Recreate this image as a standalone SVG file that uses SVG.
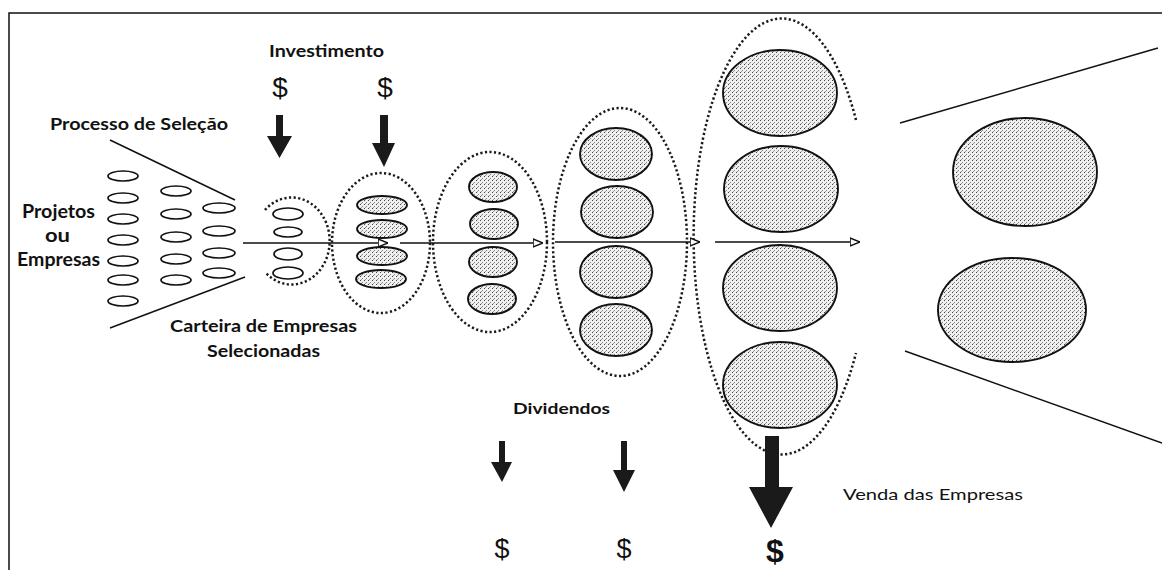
<svg xmlns="http://www.w3.org/2000/svg" width="1162" height="570" viewBox="0 0 1162 570">
<style>
.lbl{font-family:Lato,"Liberation Sans",sans-serif;fill:#111}
.b{font-weight:bold}
.dol{font-family:"Liberation Sans",Arial,sans-serif;fill:#111;text-anchor:middle}
.sm{fill:#fff;stroke:#111;stroke-width:1.7}
.big{fill:url(#stip);stroke:#111;stroke-width:1.9}
.dot{fill:none;stroke:#1a1a1a;stroke-width:2.5;stroke-dasharray:2.2 2.4}
.ln{stroke:#111;stroke-width:1.5;fill:none}
.arr{fill:#1a1a1a}
</style>
<defs>
<pattern id="stip" width="4" height="4" patternUnits="userSpaceOnUse">
<rect width="4" height="4" fill="#efefef"/>
<rect x="0" y="0" width="1" height="1" fill="#444"/>
<rect x="2" y="2" width="1" height="1" fill="#888"/>
<rect x="1" y="3" width="1" height="1" fill="#999"/>
</pattern>
<marker id="ah" viewBox="0 0 10 10" refX="10" refY="5" markerWidth="10" markerHeight="10" markerUnits="userSpaceOnUse" orient="auto">
<path d="M0,1 L10,5 L0,9 Z" fill="#fff" stroke="#111" stroke-width="1.6"/>
</marker>
</defs>
<rect width="1162" height="570" fill="#fff"/>
<path d="M9,570 V13 H1162" class="ln" stroke-width="1.6"/>

<g id="labels">
<text class="lbl b" x="269" y="57" font-size="17" textLength="115" lengthAdjust="spacingAndGlyphs">Investimento</text>
<text class="lbl b" x="50" y="130" font-size="17" textLength="178" lengthAdjust="spacingAndGlyphs">Processo de Seleção</text>
<text class="lbl b" x="22" y="218" font-size="18" textLength="73" lengthAdjust="spacingAndGlyphs">Projetos</text>
<text class="lbl b" x="45" y="242" font-size="18" textLength="25" lengthAdjust="spacingAndGlyphs">ou</text>
<text class="lbl b" x="17" y="266" font-size="18" textLength="83" lengthAdjust="spacingAndGlyphs">Empresas</text>
<text class="lbl b" x="170" y="332" font-size="17" textLength="187" lengthAdjust="spacingAndGlyphs">Carteira de Empresas</text>
<text class="lbl b" x="207" y="357" font-size="17" textLength="113" lengthAdjust="spacingAndGlyphs">Selecionadas</text>
<text class="lbl b" x="513" y="414" font-size="16" font-weight="600" textLength="97" lengthAdjust="spacingAndGlyphs">Dividendos</text>
<text class="lbl" x="843" y="500" font-size="16" textLength="180" lengthAdjust="spacingAndGlyphs">Venda das Empresas</text>
</g>

<g id="investimento">
<text class="dol" x="280" y="97" font-size="28">$</text>
<text class="dol" x="385" y="97" font-size="28">$</text>
<path class="arr" d="M276,115 H283 V136 H292 L279.5,158 L267,136 H276 Z"/>
<path class="arr" d="M380,115 H388 V143 H395 L384,167 L372,143 H380 Z"/>
</g>

<g id="funil">
<path class="ln" d="M110,140 L235,200"/>
<path class="ln" d="M110,328 L245,277"/>
<g id="coluna1">
<ellipse class="sm" cx="123" cy="176" rx="15" ry="5"/>
<ellipse class="sm" cx="123" cy="198" rx="15" ry="5"/>
<ellipse class="sm" cx="123" cy="219" rx="15" ry="5"/>
<ellipse class="sm" cx="123" cy="240" rx="15" ry="5"/>
<ellipse class="sm" cx="123" cy="261" rx="15" ry="5"/>
<ellipse class="sm" cx="123" cy="280" rx="15" ry="5"/>
<ellipse class="sm" cx="123" cy="301" rx="15" ry="5"/>
</g>
<g id="coluna2">
<ellipse class="sm" cx="176" cy="191" rx="15" ry="5"/>
<ellipse class="sm" cx="176" cy="214" rx="15" ry="5"/>
<ellipse class="sm" cx="176" cy="237" rx="15" ry="5"/>
<ellipse class="sm" cx="176" cy="259" rx="15" ry="5"/>
<ellipse class="sm" cx="176" cy="280" rx="15" ry="5"/>
</g>
<g id="coluna3">
<ellipse class="sm" cx="219" cy="208" rx="16" ry="5"/>
<ellipse class="sm" cx="219" cy="231" rx="16" ry="5"/>
<ellipse class="sm" cx="219" cy="253" rx="16" ry="5"/>
<ellipse class="sm" cx="219" cy="273" rx="16" ry="5"/>
</g>
</g>

<g id="carteira1">
<path class="dot" d="M265,210 A38,43.5 0 1 1 265,272"/>
<ellipse class="sm" cx="288" cy="214" rx="15" ry="6"/>
<ellipse class="sm" cx="288" cy="232" rx="14" ry="5"/>
<ellipse class="sm" cx="288" cy="254" rx="14" ry="6"/>
<ellipse class="sm" cx="288" cy="273" rx="15" ry="6"/>
</g>

<g id="carteira2">
<ellipse class="dot" cx="381" cy="243" rx="49" ry="70"/>
<ellipse class="big" cx="382" cy="205" rx="25" ry="9"/>
<ellipse class="big" cx="382" cy="229" rx="25" ry="9"/>
<ellipse class="big" cx="382" cy="256" rx="25" ry="9"/>
<ellipse class="big" cx="381" cy="279" rx="25" ry="9"/>
</g>

<g id="carteira3">
<ellipse class="dot" cx="490" cy="242" rx="57" ry="90"/>
<ellipse class="big" cx="493" cy="187" rx="24" ry="15"/>
<ellipse class="big" cx="494" cy="224" rx="24" ry="15"/>
<ellipse class="big" cx="493" cy="262" rx="24" ry="15"/>
<ellipse class="big" cx="492" cy="299" rx="24" ry="15"/>
</g>

<g id="carteira4">
<ellipse class="dot" cx="620" cy="242" rx="67" ry="134"/>
<ellipse class="big" cx="616" cy="154" rx="36" ry="26"/>
<ellipse class="big" cx="617" cy="212" rx="36" ry="26"/>
<ellipse class="big" cx="616" cy="272" rx="36" ry="26"/>
<ellipse class="big" cx="616" cy="330" rx="36" ry="26"/>
</g>

<g id="carteira5">
<path class="dot" d="M856,120 A88,218 0 1 0 856,353"/>
<ellipse class="big" cx="780" cy="93" rx="57" ry="43"/>
<ellipse class="big" cx="781" cy="189" rx="57" ry="43"/>
<ellipse class="big" cx="780" cy="288" rx="57" ry="43"/>
<ellipse class="big" cx="780" cy="385" rx="57" ry="43"/>
</g>

<g id="saida">
<path class="ln" d="M900,123 L1158,48"/>
<path class="ln" d="M905,351 L1162,443"/>
<ellipse class="big" cx="1025" cy="172" rx="72" ry="54"/>
<ellipse class="big" cx="1012" cy="310" rx="74" ry="52"/>
</g>

<g id="dividendos">
<path class="arr" d="M499,441 H505 V462 H512 L502,482 L491,462 H499 Z"/>
<path class="arr" d="M621,441 H627 V470 H635 L624,492 L613,470 H621 Z"/>
<text class="dol" x="502" y="558" font-size="27">$</text>
<text class="dol" x="624" y="558" font-size="27">$</text>
</g>

<g id="venda">
<path class="arr" d="M765,436 H779 V487 H793 L771,528 L749,487 H765 Z"/>
<text class="dol" x="775" y="562" font-size="32" font-weight="bold">$</text>
</g>

<g id="connectors">
<path class="ln" d="M243,243 H388" marker-end="url(#ah)"/>
<path class="ln" d="M400,243 H543" marker-end="url(#ah)"/>
<path class="ln" d="M555,242 H700" marker-end="url(#ah)"/>
<path class="ln" d="M715,242 H860" marker-end="url(#ah)"/>
</g>
</svg>
